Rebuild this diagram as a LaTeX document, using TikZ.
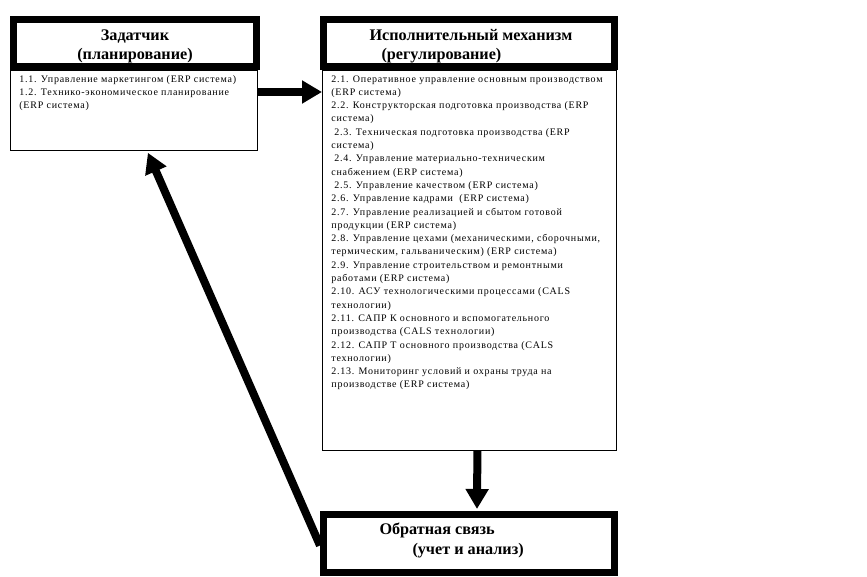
\documentclass[tikz,border=0pt]{standalone}
\usepackage{fontspec}
\setmainfont{Liberation Serif}
\newfontfamily\spisokfont[LetterSpace=7.5]{Liberation Serif}
\usetikzlibrary{arrows.meta}
\begin{document}
\begin{tikzpicture}[x=1pt,y=-1pt]
 \tikzstyle{titul}=[draw,line width=7pt,inner sep=0pt,font=\bfseries\fontsize{16.2}{19}\selectfont]
 \tikzstyle{spisok}=[draw,line width=0.8pt,inner xsep=9pt,inner ysep=5pt,anchor=north west,font=\spisokfont\fontsize{10}{13.3}\selectfont]
 \tikzstyle{strelka}=[-{Triangle[length=20pt,width=22pt]},line width=8pt]
 \useasboundingbox (0,0) rectangle (867,577);
 % titles
 \node[titul] (Tzad) at (135,43) {\parbox[c][47pt][c]{243pt}{\centering\vspace*{7pt}Задатчик\\(планирование)}};
 \node[titul] (Tisp) at (469,43) {\parbox[c][47pt][c]{291pt}{\vspace*{6pt}\hspace*{46pt}Исполнительный механизм\\\hspace*{58pt}(регулирование)}};
 \node[titul] (obr) at (469,543.5) {\parbox[c][58pt][c]{291pt}{\hspace*{56pt}Обратная связь\\[1pt]\hspace*{89pt}(учет и анализ)\vspace*{7pt}}};
 % lists
 \node[spisok] (zad) at (10,70) {\parbox[t][70pt][t]{229pt}{\raggedright
 1.1. Управление маркетингом (ERP система)\\
 1.2. Технико-экономическое планирование\\
 (ERP система)}};
 \node[spisok] (isp) at (322,70) {\parbox[t][370pt][t]{276pt}{\raggedright
 2.1. Оперативное управление основным производством\\
 (ERP система)\\
 2.2. Конструкторская подготовка производства (ERP\\
 система)\\
 \hspace*{3pt}2.3. Техническая подготовка производства (ERP\\
 система)\\
 \hspace*{3pt}2.4. Управление материально-техническим\\
 снабжением (ERP система)\\
 \hspace*{3pt}2.5. Управление качеством (ERP система)\\
 2.6. Управление кадрами \ (ERP система)\\
 2.7. Управление реализацией и сбытом готовой\\
 продукции (ERP система)\\
 2.8. Управление цехами (механическими, сборочными,\\
 термическим, гальваническим) (ERP система)\\
 2.9. Управление строительством и ремонтными\\
 работами (ERP система)\\
 2.10. АСУ технологическими процессами (CALS\\
 технологии)\\
 2.11. САПР К основного и вспомогательного\\
 производства (CALS технологии)\\
 2.12. САПР Т основного производства (CALS\\
 технологии)\\
 2.13. Мониторинг условий и охраны труда на\\
 производстве (ERP система)}};
 % arrows
 \draw[strelka] ([yshift=-22pt]zad.north east)--([yshift=-22pt]isp.north west);
 \draw[strelka] ([xshift=8pt]isp.south)--([xshift=8pt,yshift=2pt]obr.north);
 \draw[strelka] ([yshift=-2pt]obr.west)--([xshift=14pt,yshift=-2pt]zad.south);
\end{tikzpicture}
\end{document}
